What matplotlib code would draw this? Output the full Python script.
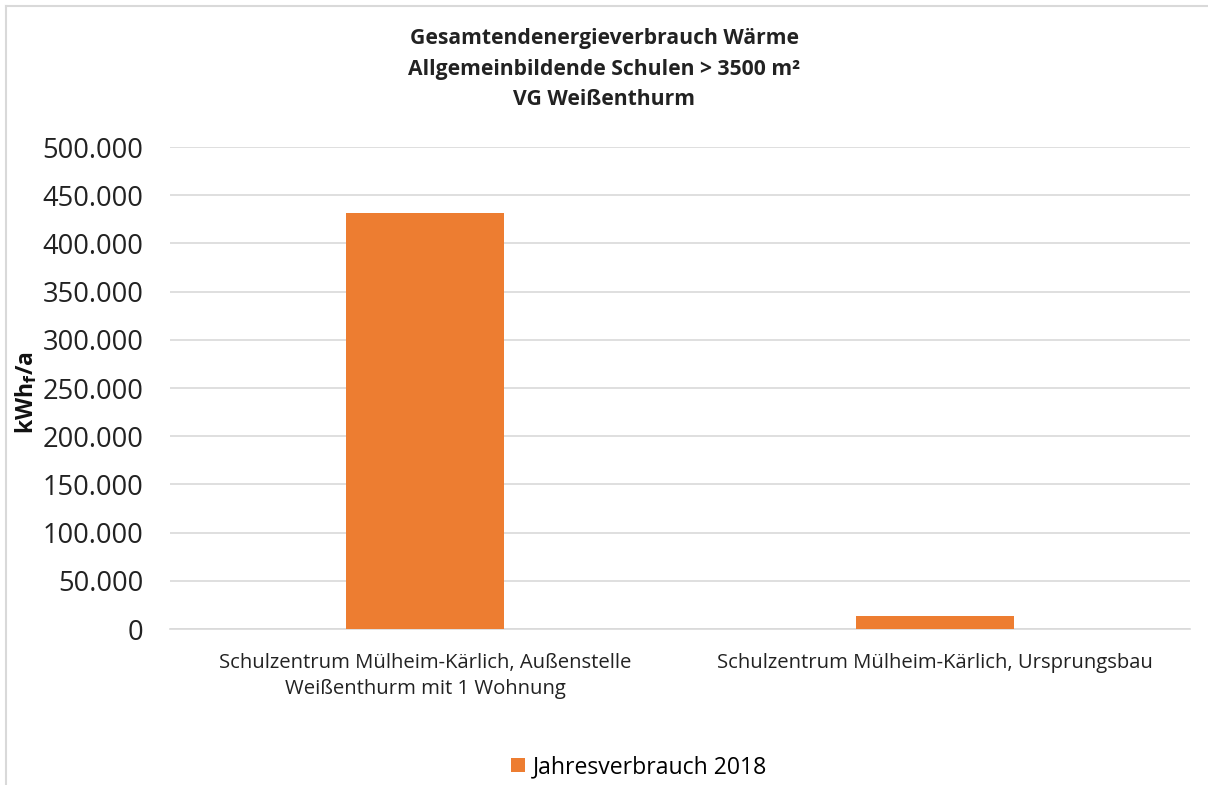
import matplotlib
matplotlib.use("Agg")
import matplotlib.pyplot as plt
from matplotlib.ticker import FuncFormatter
from matplotlib.lines import Line2D

categories = ["Schulzentrum Mülheim-Kärlich, Außenstelle\nWeißenthurm mit 1 Wohnung",
              "Schulzentrum Mülheim-Kärlich, Ursprungsbau"]
values = [432000, 13500]
series_name = "Jahresverbrauch 2018"
yticks = [0, 50000, 100000, 150000, 200000, 250000, 300000, 350000, 400000, 450000, 500000]
title = "Gesamtendenergieverbrauch Wärme\nAllgemeinbildende Schulen > 3500 m²\nVG Weißenthurm"

plt.rcParams['font.family'] = ['Open Sans', 'DejaVu Sans']
color = "#ED7D31"

fig = plt.figure(figsize=(12.08, 7.85), dpi=100)
ax = fig.add_axes([170/1208, 1-629/785, 1020/1208, 482/785])

x = list(range(len(categories)))
ax.bar(x, values, width=0.31, color=color, label=series_name, zorder=3)
ax.set_xlim(-0.5, 1.5)
ax.set_ylim(0, 500000)
ax.set_yticks(yticks)
ax.yaxis.set_major_formatter(FuncFormatter(lambda v, p: f"{int(v):,}".replace(",", ".")))
ax.set_xticks(x)
ax.set_xticklabels(categories, fontsize=14.6, color="#222222", linespacing=1.45)
ax.tick_params(axis='y', labelsize=19.6, length=0, pad=19, colors="#222222")
ax.tick_params(axis='x', length=0, pad=17)
ax.grid(axis='y', color="#D9D9D9", linewidth=1.2, zorder=0)
for s in ["top", "right", "left"]:
    ax.spines[s].set_visible(False)
ax.spines["bottom"].set_color("#D9D9D9")
ax.spines["bottom"].set_linewidth(1.2)

ax.set_ylabel(r"kWh$_\mathbf{f}$/a", fontsize=16.5, fontweight="bold", color="#111111")
ax.yaxis.set_label_coords(-0.128, 0.49)

fig.text(0.5, 1-69/785, title, ha="center", va="center", fontsize=15.2,
         fontweight="bold", linespacing=1.6, color="#222222")

fig.legend(loc="center", bbox_to_anchor=(0.5 + 35/1208, 1-767/785), frameon=False,
           fontsize=16.6, handlelength=0.6, handleheight=0.6, handletextpad=0.35)

fig.lines.append(Line2D([6/1208, 6/1208], [0, 1-6/785], transform=fig.transFigure,
                        color="#D9D9D9", linewidth=1.5))
fig.lines.append(Line2D([6/1208, 1.0], [1-6/785, 1-6/785], transform=fig.transFigure,
                        color="#D9D9D9", linewidth=1.5))

fig.savefig("out.png", dpi=100)
